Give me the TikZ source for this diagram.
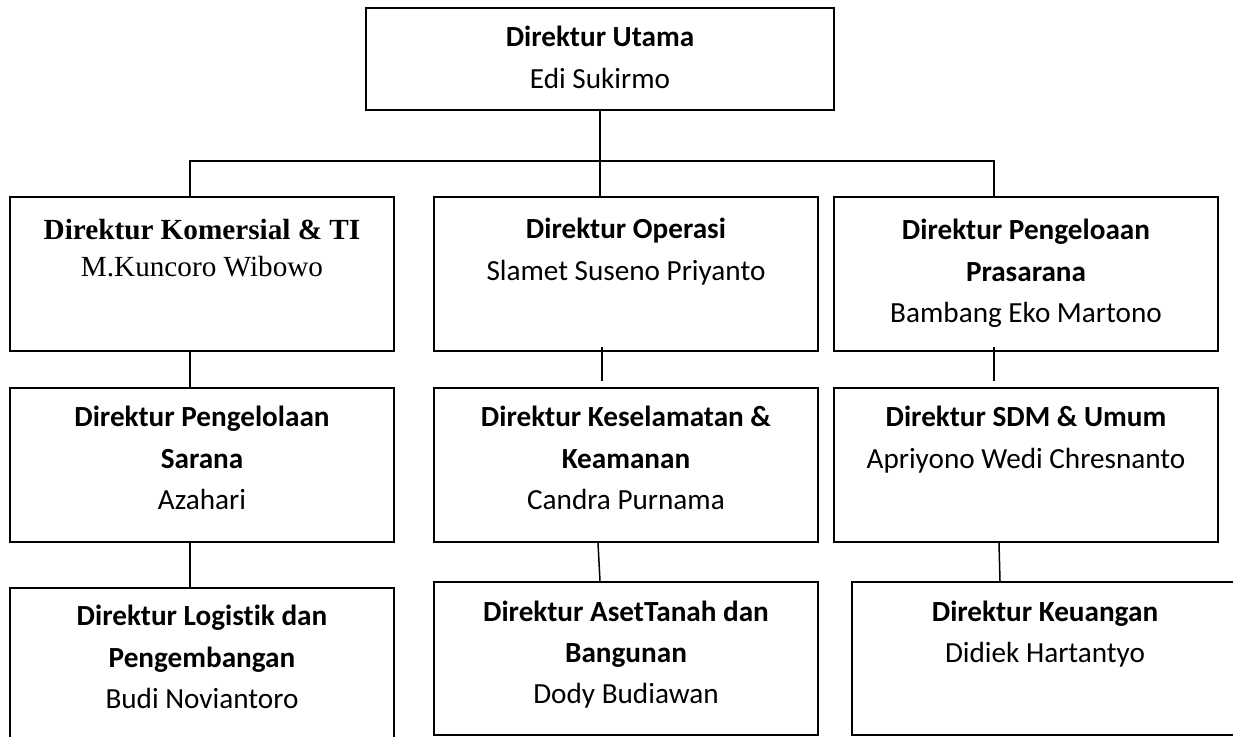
\documentclass[tikz,border=0pt]{standalone}
\usepackage{fontspec}
\setmainfont[Ligatures=NoCommon]{Carlito}
\newfontfamily\timesfont{Liberation Serif}
\usepackage{tikz}
\usetikzlibrary{positioning,calc}

% box content: width, height, first baseline, text
\newcommand{\isi}[4]{\parbox[c][#2pt][t]{#1pt}{\centering\rule{0pt}{#3pt}#4}}

\tikzset{
  kotak/.style={draw, line width=1pt, inner sep=0pt, font=\fontsize{14.6pt}{20.75pt}\selectfont},
  garis/.style={line width=0.75pt}
}

\begin{document}
\begin{tikzpicture}[x=0.5pt,y=-0.5pt]
\useasboundingbox (0,0) rectangle (1233,737);

% top
\node[kotak] (utama) at (600,59) {\isi{234}{51}{19.5}{\textbf{Direktur Utama}\\Edi Sukirmo}};

% first row
\node[kotak] (komersial) at (202,274) {\isi{192}{77}{21.5}{\timesfont\fontsize{14.6pt}{18.5pt}\selectfont\textbf{Direktur Komersial \& TI}\\M.Kuncoro Wibowo}};
\node[kotak] (operasi) at (626,274) {\isi{192}{77}{21}{\textbf{Direktur Operasi}\\Slamet Suseno Priyanto}};
\node[kotak] (prasarana) at (1026,274) {\isi{192}{77}{21.5}{\textbf{Direktur Pengeloaan\\Prasarana}\\Bambang Eko Martono}};

% second row
\node[kotak] (sarana) at (202,465) {\isi{192}{77}{19.5}{\textbf{Direktur Pengelolaan\\Sarana}\\Azahari}};
\node[kotak] (keselamatan) at (626,465) {\isi{192}{77}{19.5}{\textbf{Direktur Keselamatan \&\\Keamanan}\\Candra Purnama}};
\node[kotak] (sdm) at (1026,465) {\isi{192}{77}{19.5}{\textbf{Direktur SDM \& Umum}\\Apriyono Wedi Chresnanto}};

% third row
\node[kotak] (logistik) at (202,666.5) {\isi{192}{78.5}{19}{\textbf{Direktur Logist\kern0pt ik dan\\Pengembangan}\\Budi Noviantoro}};
\node[kotak] (aset) at (626,658.5) {\isi{192}{76.5}{19.5}{\textbf{Direktur AsetTanah dan\\Bangunan}\\Dody Budiawan}};
\node[kotak] (keuangan) at (1045,658.5) {\isi{193}{76.5}{19.5}{\textbf{Direktur Keuangan}\\Didiek Hartantyo}};

% connectors
\coordinate (bagi) at ($(utama.south)+(0,-25pt)$);
\draw[garis] (utama.south) -- (bagi);
\draw[garis] ([xshift=-6pt]komersial.north) |- (bagi) -| ([xshift=-16pt]prasarana.north);
\draw[garis] (bagi) -- (operasi.north -| bagi);

\draw[garis] ([xshift=-6pt]komersial.south) -- ([xshift=-6pt]sarana.north);
\draw[garis] ([xshift=-12pt,yshift=2.5pt]operasi.south) -- ([xshift=-12pt,yshift=3pt]keselamatan.north);
\draw[garis] ([xshift=-16pt,yshift=2.5pt]prasarana.south) -- ([xshift=-16pt,yshift=3pt]sdm.north);

\draw[garis] ([xshift=-6pt]sarana.south) -- ([xshift=-6pt]logistik.north);
\draw[garis] ([xshift=-14pt]keselamatan.south) -- ([xshift=-13pt]aset.north);
\draw[garis] ([xshift=-13.5pt]sdm.south) -- ([xshift=-22.5pt]keuangan.north);

\end{tikzpicture}
\end{document}
